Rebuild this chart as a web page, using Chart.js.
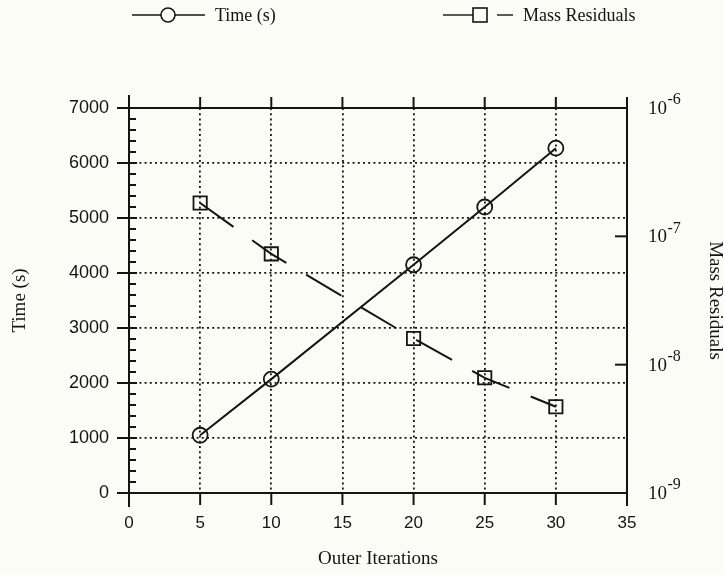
<!DOCTYPE html>
<html><head><meta charset="utf-8">
<script src="https://cdn.jsdelivr.net/npm/chart.js@4.4.1/dist/chart.umd.min.js"></script>
<style>html,body{margin:0;padding:0;background:#fcfcf7;} canvas{display:block;}</style>
</head><body>
<canvas id="c" width="724" height="575"></canvas>
<script>
// ---- data ----
const iterations = [5, 10, 20, 25, 30];
const timeSeconds = [1050, 2070, 4150, 5200, 6270];
const massResiduals = [1.82e-7, 7.3e-8, 1.6e-8, 7.9e-9, 4.7e-9];
const xTickValues = [0, 5, 10, 15, 20, 25, 30, 35];
const timeTickValues = [0, 1000, 2000, 3000, 4000, 5000, 6000, 7000];
const massTickValues = [1e-9, 1e-8, 1e-7, 1e-6];
const massTickLabels = [['10', '-9'], ['10', '-8'], ['10', '-7'], ['10', '-6']];
const seriesLabels = ['Time (s)', 'Mass Residuals'];
const xTitle = 'Outer Iterations';
const yTitle = 'Time (s)';
const y2Title = 'Mass Residuals';

const INK = '#141414';
const BG = '#fcfcf7';
const SERIF = '"Liberation Serif", "Times New Roman", serif';
const SANS = '"Liberation Sans", Arial, sans-serif';
const CLEAR = 'rgba(0,0,0,0)';

const framePlugin = {
  id: 'frame',
  beforeDraw(chart) {
    const c = chart.ctx;
    c.save();
    c.fillStyle = BG;
    c.fillRect(0, 0, chart.width, chart.height);
    c.restore();
  },
  afterDraw(chart) {
    const c = chart.ctx;
    const {left, right, top, bottom} = chart.chartArea;
    const xs = chart.scales.x, ys = chart.scales.y, y2 = chart.scales.y2;
    c.save();
    c.strokeStyle = INK;
    c.fillStyle = INK;
    c.lineCap = 'butt';
    const seg = (x1, y1, x2, y2_, w) => {
      c.lineWidth = w; c.beginPath(); c.moveTo(x1, y1); c.lineTo(x2, y2_); c.stroke();
    };
    // frame
    seg(left, top - 13, left, bottom + 14, 2);
    seg(right, top - 11, right, bottom + 13, 2);
    seg(left, top, right, top, 2);
    seg(left, bottom, right, bottom, 2);
    // x ticks (bottom outward, top outward)
    xTickValues.forEach(v => {
      const px = xs.getPixelForValue(v);
      seg(px, bottom, px, bottom + 12, 2);
      if (v > xs.min && v < xs.max) seg(px, top - 11, px, top, 2);
    });
    // left major ticks crossing, minor ticks inside
    timeTickValues.forEach(v => {
      const py = ys.getPixelForValue(v);
      seg(left - 12, py, left + 8, py, 2);
    });
    for (let v = ys.min; v <= ys.max; v += 200) {
      if (v % 1000 === 0) continue;
      const py = ys.getPixelForValue(v);
      seg(left, py, left + 7, py, 2);
    }
    // right log ticks + labels
    massTickValues.forEach((v, i) => {
      const py = y2.getPixelForValue(v);
      if (i > 0 && i < massTickValues.length - 1) seg(right - 12, py, right, py, 2);
      const [base, exp] = massTickLabels[i];
      c.textAlign = 'left';
      c.textBaseline = 'middle';
      c.font = '19px ' + SERIF;
      const bx = right + 21;
      c.fillText(base, bx, py + 1);
      const w = c.measureText(base).width;
      c.font = '16px ' + SERIF;
      c.fillText(exp, bx + w + 0.5, py - 8);
    });
    // legend
    seg(132, 15, 205, 15, 1.4);
    c.fillStyle = BG;
    c.beginPath(); c.arc(168, 15, 7, 0, Math.PI * 2); c.fill();
    c.lineWidth = 1.6; c.beginPath(); c.arc(168, 15, 7, 0, Math.PI * 2); c.stroke();
    c.fillStyle = INK;
    c.font = '18px ' + SERIF;
    c.textAlign = 'left'; c.textBaseline = 'middle';
    c.fillText(chart.data.datasets[0].label, 215, 16);
    seg(443, 15, 473, 15, 1.4);
    c.lineWidth = 1.6; c.strokeRect(473, 8, 14, 14);
    seg(497, 15, 513, 15, 1.4);
    c.fillText(chart.data.datasets[1].label, 523, 16);
    c.restore();
  }
};

const interiorGrid = (min, max) => ctx => (ctx.tick && ctx.tick.value > min && ctx.tick.value < max) ? INK : CLEAR;

new Chart(document.getElementById('c'), {
  type: 'line',
  data: {
    datasets: [
      {
        label: seriesLabels[0],
        data: iterations.map((x, i) => ({x, y: timeSeconds[i]})),
        yAxisID: 'y',
        borderColor: INK, borderWidth: 2,
        pointStyle: 'circle', pointRadius: 7.5, pointBorderWidth: 1.8,
        pointBackgroundColor: CLEAR, pointBorderColor: INK,
        tension: 0, fill: false
      },
      {
        label: seriesLabels[1],
        data: iterations.map((x, i) => ({x, y: massResiduals[i]})),
        yAxisID: 'y2',
        borderColor: INK, borderWidth: 2, borderDash: [41, 23],
        pointStyle: 'rect', pointRadius: 9.4, pointBorderWidth: 1.8,
        pointBackgroundColor: CLEAR, pointBorderColor: INK,
        tension: 0, fill: false
      }
    ]
  },
  options: {
    responsive: false, animation: false, devicePixelRatio: 1,
    layout: {padding: {top: 108, left: 0, right: 0, bottom: 0}},
    plugins: {legend: {display: false}, tooltip: {enabled: false}},
    scales: {
      x: {
        type: 'linear', position: 'bottom', min: 0, max: 35,
        afterBuildTicks: s => { s.ticks = xTickValues.map(v => ({value: v})); },
        afterFit: s => { s.height = 82; },
        grid: {color: interiorGrid(0, 35), lineWidth: 1.8, drawTicks: false},
        border: {display: false, dash: [2, 3.2]},
        ticks: {padding: 20, color: INK, maxRotation: 0, font: {family: SANS, size: 17}, callback: v => String(v)},
        title: {display: true, text: xTitle, color: INK, font: {family: SERIF, size: 19, lineHeight: 1}, padding: {top: 0, bottom: 6.5}}
      },
      y: {
        type: 'linear', position: 'left', min: 0, max: 7000,
        afterBuildTicks: s => { s.ticks = timeTickValues.map(v => ({value: v})); },
        afterFit: s => { s.width = 129; },
        grid: {color: interiorGrid(0, 7000), lineWidth: 1.8, drawTicks: false},
        border: {display: false, dash: [2, 3.2]},
        ticks: {padding: 20, color: INK, font: {family: SANS, size: 18}, callback: v => String(v)},
        title: {display: true, text: yTitle, color: INK, font: {family: SERIF, size: 19, lineHeight: 1}, padding: {top: 10.5, bottom: 0}}
      },
      y2: {
        type: 'logarithmic', position: 'right', min: 1e-9, max: 1e-6,
        afterBuildTicks: s => { s.ticks = massTickValues.map(v => ({value: v})); },
        afterFit: s => { s.width = 97; },
        grid: {display: false, drawTicks: false},
        border: {display: false},
        ticks: {display: false},
        title: {display: true, text: y2Title, color: INK, font: {family: SERIF, size: 19, lineHeight: 1}, padding: {top: 0, bottom: 0}}
      }
    }
  },
  plugins: [framePlugin]
});
</script>
</body></html>
